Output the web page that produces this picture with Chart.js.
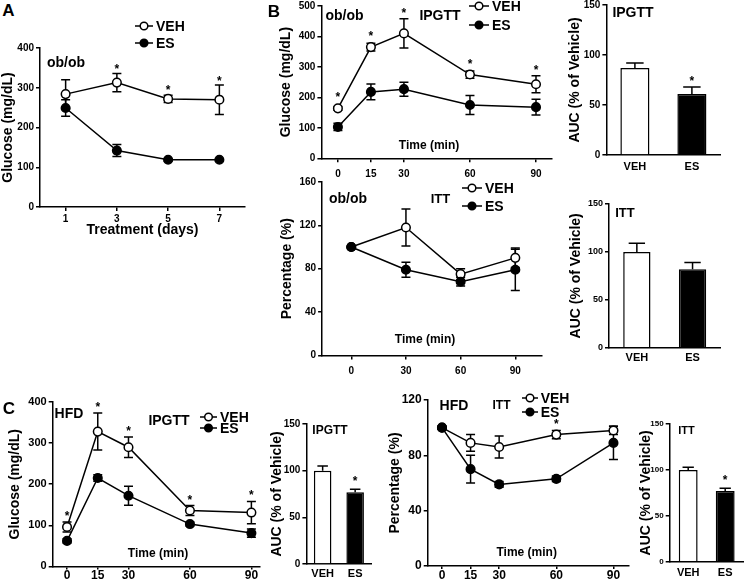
<!DOCTYPE html>
<html>
<head>
<meta charset="utf-8">
<script src="https://cdn.jsdelivr.net/npm/chart.js@4.4.1/dist/chart.umd.min.js"></script>
<style>
  body { margin: 0; background: #fff; }
  #fig { position: relative; width: 745px; height: 585px; overflow: hidden;
         font-family: "Liberation Sans", Arial, sans-serif; font-weight: bold; color: #000; }
  #fig canvas { position: absolute; }
  .lbl { position: absolute; white-space: nowrap; line-height: 1; transform: translate(-50%, -50%); }
  .leg { position: absolute; display: flex; align-items: center; line-height: 1; transform: translateY(-50%); white-space: nowrap; }
  .leg svg { margin-right: 3px; }
</style>
</head>
<body>
<div id="fig"></div>
<script>
// ---- data ----
const seriesNames = ['VEH', 'ES'];

// A: ob/ob fasting glucose over treatment
const daysA = [1, 3, 5, 7];
const vehA = [284, 313, 272, 270];
const vehAErr = [36, 23, 9, 37];
const esA = [249, 142, 119, 119];
const esAErr = [21, 15, 3, 3];
const starsA = [1, 2, 3];

// B: ob/ob IPGTT
const timeGTT = [0, 15, 30, 60, 90];
const vehGttOb = [164, 365, 410, 275, 243];
const vehGttObErr = [6, 13, 48, 12, 28];
const esGttOb = [103, 218, 227, 175, 168];
const esGttObErr = [12, 26, 23, 31, 26];
const starsGttOb = [0, 1, 2, 3, 4];
const aucGttOb = [87, 61];
const aucGttObErr = [5, 7];
const aucGttObStars = [1];

// B: ob/ob ITT
const timeIttOb = [0, 30, 60, 90];
const vehIttOb = [100, 118, 75, 90];
const vehIttObErr = [0, 17, 5, 9];
const esIttOb = [100, 79, 68, 79];
const esIttObErr = [0, 7, 4, 19];
const aucIttOb = [100, 82];
const aucIttObErr = [9, 7];

// C: HFD IPGTT
const vehGttHfd = [96, 328, 290, 136, 131];
const vehGttHfdErr = [12, 45, 25, 12, 27];
const esGttHfd = [62, 215, 172, 103, 81];
const esGttHfdErr = [5, 8, 23, 5, 10];
const starsGttHfd = [0, 1, 2, 3, 4];
const aucGttHfd = [100, 77];
const aucGttHfdErr = [5, 3];
const aucGttHfdStars = [1];

// C: HFD ITT
const timeIttHfd = [0, 15, 30, 60, 90];
const vehIttHfd = [100, 89, 86, 95, 98];
const vehIttHfdErr = [1, 6, 8, 3, 3];
const esIttHfd = [100, 70, 59, 63, 89];
const esIttHfdErr = [1, 10, 2, 2, 12];
const starsIttHfd = [3];
const aucIttHfd = [100, 77];
const aucIttHfdErr = [3, 3];
const aucIttHfdStars = [1];

// ---- helpers ----
const FONT = '"Liberation Sans", Arial, sans-serif';
const fig = document.getElementById('fig');

function addLabel(text, x, y, size) {
    const d = document.createElement('div');
    d.className = 'lbl';
    d.textContent = text;
    d.style.left = x + 'px';
    d.style.top = y + 'px';
    d.style.fontSize = size + 'px';
    fig.appendChild(d);
}

function addLegend(x, y, gap, size, symW) {
    const fills = ['#fff', '#000'];
    seriesNames.forEach((name, i) => {
        const d = document.createElement('div');
        d.className = 'leg';
        d.style.left = x + 'px';
        d.style.top = (y + i * gap) + 'px';
        d.style.fontSize = size + 'px';
        d.innerHTML = '<svg width="' + symW + '" height="10"><line x1="0" y1="5" x2="' + symW + '" y2="5" stroke="#000" stroke-width="1.5"/>' +
            '<circle cx="' + (symW / 2) + '" cy="5" r="3.8" fill="' + fills[i] + '" stroke="#000" stroke-width="1.5"/></svg><span>' + name + '</span>';
        fig.appendChild(d);
    });
}

function makeCanvas(box) {
    const w = Math.round(box.yW + (box.r - box.l) + box.padR);
    const h = Math.round(box.padT + (box.b - box.t) + box.xH);
    const c = document.createElement('canvas');
    c.width = w; c.height = h;
    c.style.width = w + 'px'; c.style.height = h + 'px';
    c.style.left = (box.l - box.yW) + 'px';
    c.style.top = (box.t - box.padT) + 'px';
    fig.appendChild(c);
    // right padding so the plot area ends where it should
    box.padRight = w - box.yW - (box.r - box.l);
    box.xHeight = h - box.padT - (box.b - box.t);
    return c;
}

function fontOf(size) {
    return { family: FONT, size: size, weight: 'bold' };
}

function yAxis(box, o) {
    return {
        min: 0, max: o.max,
        ticks: { stepSize: o.step, color: '#000', font: fontOf(o.fs), padding: 2 },
        grid: { drawOnChartArea: false, drawTicks: true, tickLength: 4, color: '#000', lineWidth: 1.5 },
        border: { color: '#000', width: 1.5 },
        title: { display: true, text: o.title, color: '#000', font: fontOf(14), padding: 0 },
        afterFit: s => { s.width = box.yW; s.paddingTop = 0; s.paddingBottom = 0; }
    };
}

// error bars behind the markers, stars above the VEH points / bars
function errPlugin(errs, stars, starIdx, gap, isBar) {
    function drawErr(chart, i) {
        const ctx = chart.ctx;
        const ys = chart.scales.y;
        const meta = chart.getDatasetMeta(i);
        ctx.save();
        ctx.strokeStyle = '#000';
        ctx.lineWidth = 1.5;
        meta.data.forEach((el, j) => {
            const raw = chart.data.datasets[i].data[j];
            const v = typeof raw === 'object' ? raw.y : raw;
            const e = errs[i][j];
            const top = ys.getPixelForValue(v + e);
            const bot = isBar ? el.y : ys.getPixelForValue(v - e);
            const cap = isBar ? el.width * 0.3 : 4.5;
            ctx.beginPath();
            ctx.moveTo(el.x, top); ctx.lineTo(el.x, bot);
            ctx.moveTo(el.x - cap, top); ctx.lineTo(el.x + cap, top);
            if (!isBar) { ctx.moveTo(el.x - cap, bot); ctx.lineTo(el.x + cap, bot); }
            ctx.stroke();
        });
        ctx.restore();
    }
    return {
        id: 'errbars',
        beforeDatasetsDraw(chart) {
            if (!isBar) chart.data.datasets.forEach((d, i) => drawErr(chart, i));
        },
        afterDatasetsDraw(chart) {
            if (isBar) drawErr(chart, 0);
            const ctx = chart.ctx;
            const ys = chart.scales.y;
            const meta = chart.getDatasetMeta(starIdx);
            ctx.save();
            ctx.fillStyle = '#000';
            ctx.font = 'bold 12px ' + FONT;
            ctx.textAlign = 'center';
            ctx.textBaseline = 'alphabetic';
            stars.forEach(j => {
                const el = meta.data[j];
                const raw = chart.data.datasets[starIdx].data[j];
                const v = typeof raw === 'object' ? raw.y : raw;
                const top = Math.min(ys.getPixelForValue(v + errs[starIdx][j]), el.y - 5);
                ctx.fillText('*', el.x, top - gap);
            });
            ctx.restore();
        }
    };
}

function lineChart(o) {
    const box = o.box;
    const canvas = makeCanvas(box);
    const pts = (arr) => o.xs.map((x, i) => ({ x: x, y: arr[i] }));
    const ds = (name, arr, fill) => ({
        label: name, data: pts(arr),
        borderColor: '#000', borderWidth: 1.5, backgroundColor: fill,
        pointBackgroundColor: fill, pointBorderColor: '#000', pointBorderWidth: 1.5,
        pointRadius: 4.3, tension: 0, clip: false
    });
    new Chart(canvas, {
        type: 'line',
        data: {
            // ES first so its filled markers sit on top
            datasets: [ds(seriesNames[1], o.es, '#000'), ds(seriesNames[0], o.veh, '#fff')]
        },
        options: {
            responsive: false, animation: false, devicePixelRatio: 1,
            layout: { padding: { left: 0, top: box.padT, right: box.padRight, bottom: 0 } },
            plugins: { legend: { display: false }, tooltip: { enabled: false } },
            scales: {
                x: {
                    type: 'linear', min: o.x.min, max: o.x.max,
                    afterBuildTicks: s => { s.ticks = o.xs.map(v => ({ value: v })); },
                    ticks: { color: '#000', font: fontOf(o.x.fs), padding: o.x.pad, maxRotation: 0 },
                    grid: { drawOnChartArea: false, drawTicks: true, tickLength: o.x.tl || 4, color: '#000', lineWidth: 1.5 },
                    border: { color: '#000', width: 1.5 },
                    title: { display: !!o.x.title, text: o.x.title || '', color: '#000', font: fontOf(14), padding: 0 },
                    afterFit: s => { s.height = box.xHeight; s.paddingLeft = 0; s.paddingRight = 0; }
                },
                y: yAxis(box, o.y)
            }
        },
        plugins: [errPlugin([o.esErr, o.vehErr], o.stars, 1, o.starGap, false)]
    });
}

function barChart(o) {
    const box = o.box;
    const canvas = makeCanvas(box);
    new Chart(canvas, {
        type: 'bar',
        data: {
            labels: seriesNames,
            datasets: [{
                data: o.vals,
                backgroundColor: ['#fff', '#000'],
                borderColor: '#000', borderWidth: 1.5,
                categoryPercentage: 1, barPercentage: o.barPct
            }]
        },
        options: {
            responsive: false, animation: false, devicePixelRatio: 1,
            layout: { padding: { left: 0, top: box.padT, right: box.padRight, bottom: 0 } },
            plugins: { legend: { display: false }, tooltip: { enabled: false } },
            scales: {
                x: {
                    ticks: { color: '#000', font: fontOf(o.xfs), padding: o.xpad },
                    grid: { display: false, drawTicks: false },
                    border: { color: '#000', width: 1.5 },
                    afterFit: s => { s.height = box.xHeight; s.paddingLeft = 0; s.paddingRight = 0; }
                },
                y: yAxis(box, o.y)
            }
        },
        plugins: [errPlugin([o.errs], o.stars, 0, o.starGap, true)]
    });
}

// ---- panel A ----
lineChart({
    box: { l: 40, t: 48.3, r: 245, b: 207.3, yW: 40, padT: 8, padR: 10, xH: 32 },
    xs: daysA, veh: vehA, vehErr: vehAErr, es: esA, esErr: esAErr, stars: starsA, starGap: 0,
    x: { min: 0, max: 8, fs: 10, pad: 2, title: 'Treatment (days)' },
    y: { max: 400, step: 100, fs: 10, title: 'Glucose (mg/dL)' }
});

// ---- panel B ----
lineChart({
    box: { l: 321.7, t: 6, r: 551.7, b: 158.3, yW: 43.4, padT: 6, padR: 10, xH: 22 },
    xs: timeGTT, veh: vehGttOb, vehErr: vehGttObErr, es: esGttOb, esErr: esGttObErr, stars: starsGttOb, starGap: 2,
    x: { min: -7.5, max: 97, fs: 10, pad: 6 },
    y: { max: 500, step: 100, fs: 10, title: 'Glucose (mg/dL)' }
});
barChart({
    box: { l: 606, t: 5, r: 720, b: 155, yW: 39.4, padT: 5, padR: 10, xH: 24 },
    vals: aucGttOb, errs: aucGttObErr, stars: aucGttObStars, starGap: 2, barPct: 0.51, xfs: 11, xpad: 5,
    y: { max: 150, step: 50, fs: 10, title: 'AUC (% of Vehicle)' }
});
lineChart({
    box: { l: 321.7, t: 182.3, r: 541.7, b: 355.7, yW: 43.1, padT: 8, padR: 8, xH: 24 },
    xs: timeIttOb, veh: vehIttOb, vehErr: vehIttObErr, es: esIttOb, esErr: esIttObErr, stars: [], starGap: 2,
    x: { min: -16, max: 104.7, fs: 10, pad: 6 },
    y: { max: 160, step: 40, fs: 10, title: 'Percentage (%)' }
});
barChart({
    box: { l: 609.3, t: 204, r: 720.7, b: 347.7, yW: 41, padT: 8, padR: 10, xH: 24 },
    vals: aucIttOb, errs: aucIttObErr, stars: [], starGap: 2, barPct: 0.49, xfs: 11, xpad: 4,
    y: { max: 150, step: 50, fs: 9, title: 'AUC (% of Vehicle)' }
});

// ---- panel C ----
lineChart({
    box: { l: 52.3, t: 402.3, r: 260, b: 566.7, yW: 45.7, padT: 8, padR: 6, xH: 18 },
    xs: timeGTT, veh: vehGttHfd, vehErr: vehGttHfdErr, es: esGttHfd, esErr: esGttHfdErr, stars: starsGttHfd, starGap: 2,
    x: { min: -7, max: 94.3, fs: 12, pad: -1, tl: 3 },
    y: { max: 400, step: 100, fs: 11, title: 'Glucose (mg/dL)' }
});
barChart({
    box: { l: 306, t: 424, r: 371, b: 564, yW: 37.4, padT: 8, padR: 4, xH: 20 },
    vals: aucGttHfd, errs: aucGttHfdErr, stars: aucGttHfdStars, starGap: 2, barPct: 0.54, xfs: 11, xpad: 3,
    y: { max: 150, step: 50, fs: 10, title: 'AUC (% of Vehicle)' }
});
lineChart({
    box: { l: 427.3, t: 400, r: 628.3, b: 566, yW: 40.7, padT: 8, padR: 8, xH: 18 },
    xs: timeIttHfd, veh: vehIttHfd, vehErr: vehIttHfdErr, es: esIttHfd, esErr: esIttHfdErr, stars: starsIttHfd, starGap: 2,
    x: { min: -7.5, max: 98, fs: 12, pad: -1, tl: 3 },
    y: { max: 120, step: 40, fs: 12, title: 'Percentage (%)' }
});
barChart({
    box: { l: 670, t: 424, r: 744, b: 561.7, yW: 31.7, padT: 8, padR: 1, xH: 22 },
    vals: aucIttHfd, errs: aucIttHfdErr, stars: aucIttHfdStars, starGap: 2, barPct: 0.51, xfs: 11, xpad: 5,
    y: { max: 150, step: 50, fs: 8, title: 'AUC (% of Vehicle)' }
});

// ---- free text, legends ----
addLabel('A', 8.5, 10, 17);
addLabel('B', 274, 11, 17);
addLabel('C', 9, 407.5, 17);

addLabel('ob/ob', 66, 61.7, 14);
addLabel('ob/ob', 344.5, 15, 14);
addLabel('IPGTT', 440, 15, 14);
addLabel('IPGTT', 633, 12, 14);
addLabel('ob/ob', 348, 198, 14);
addLabel('ITT', 440.5, 198, 13);
addLabel('ITT', 625, 211.7, 13);
addLabel('HFD', 69, 413, 14);
addLabel('IPGTT', 169, 420, 14);
addLabel('IPGTT', 330, 430, 12);
addLabel('HFD', 454, 405, 14);
addLabel('ITT', 501.5, 405, 12);
addLabel('ITT', 686.5, 430, 11);

addLabel('Time (min)', 429, 145, 12);
addLabel('Time (min)', 425, 339, 12);
addLabel('Time (min)', 158, 553, 12);
addLabel('Time (min)', 526.7, 552.3, 12);

addLegend(135, 26, 17.3, 14, 18);
addLegend(469, 6, 19, 14, 20);
addLegend(462, 188, 18, 14, 20);
addLegend(200, 416.7, 11.5, 14, 17);
addLegend(521.7, 398.3, 13.4, 14, 16);
</script>
</body>
</html>
